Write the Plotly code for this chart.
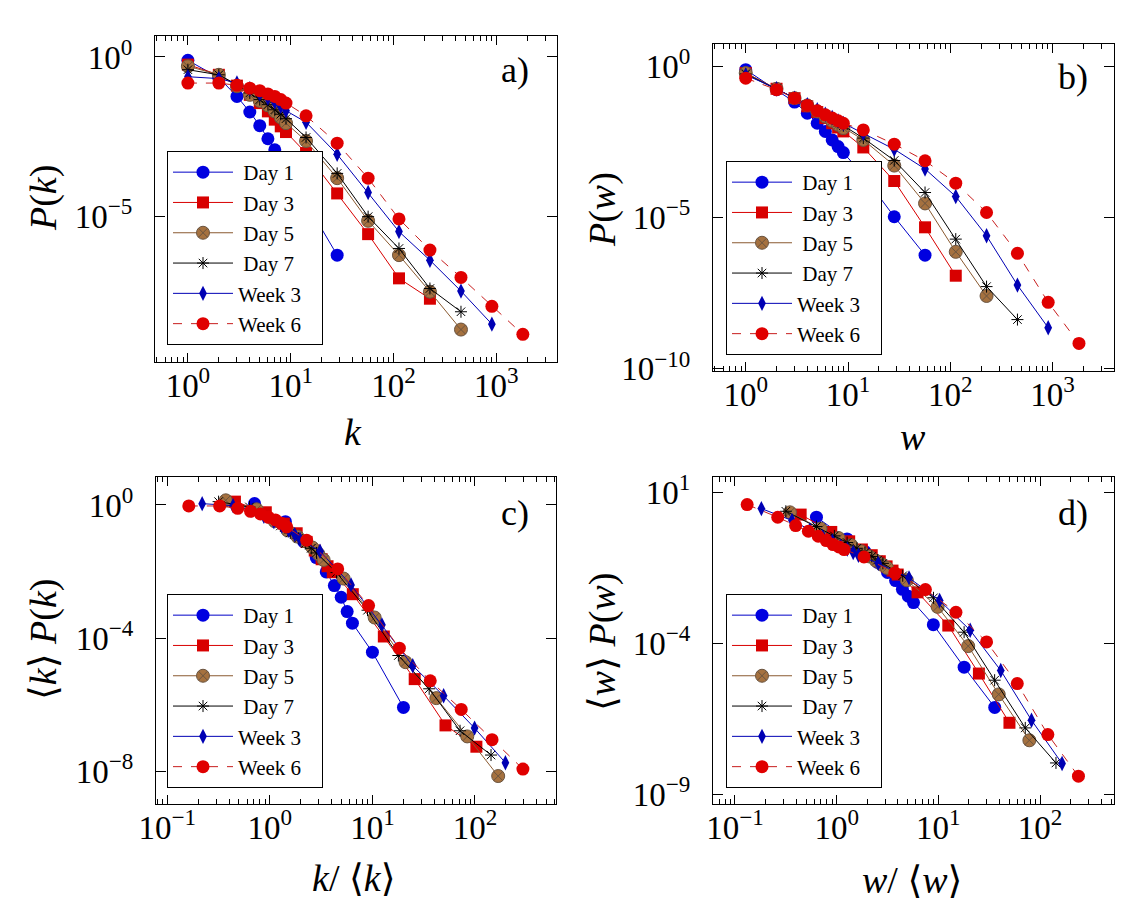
import plotly.graph_objects as go

# ---------------- data ----------------
series_names = ["Day 1", "Day 3", "Day 5", "Day 7", "Week 3", "Week 6"]
bins = [1, 2, 3, 4, 5, 6, 7, 8, 9, 14.1, 28.3, 56.6, 113, 226, 453, 905, 1810]

# panel a: log10 P(k)
log10_pk_day1 = [-0.105, -0.65, -1.24, -1.73, -2.16, -2.57, -2.92, -3.35, -3.70, -4.57, -6.23]
log10_pk_day3 = [-0.24, -0.56, -0.90, -1.19, -1.45, -1.71, -1.97, -2.18, -2.36, -3.02, -4.29, -5.57, -6.96, -7.60]
log10_pk_day5 = [-0.29, -0.56, -0.92, -1.19, -1.38, -1.52, -1.71, -1.90, -2.08, -2.64, -3.81, -5.15, -6.23, -7.38, -8.57]
log10_pk_day7 = [-0.40, -0.56, -0.87, -1.13, -1.34, -1.50, -1.66, -1.80, -1.94, -2.53, -3.66, -5.02, -6.02, -7.28, -8.01]
log10_pk_week3 = [-0.62, -0.68, -0.82, -1.00, -1.16, -1.29, -1.42, -1.55, -1.69, -2.05, -3.06, -4.26, -5.49, -6.39, -7.36, -8.40]
log10_pk_week6 = [-0.82, -0.82, -0.89, -0.98, -1.06, -1.16, -1.24, -1.34, -1.45, -1.85, -2.71, -3.81, -5.09, -6.07, -6.93, -7.84, -8.72]

# panel b: log10 P(w)
log10_pw_day1 = [-0.11, -0.77, -1.18, -1.55, -1.88, -2.15, -2.43, -2.65, -2.85, -3.60, -4.97, -6.24]
log10_pw_day3 = [-0.22, -0.74, -1.05, -1.32, -1.51, -1.71, -1.88, -2.02, -2.15, -2.68, -3.79, -5.32, -6.92]
log10_pw_day5 = [-0.22, -0.74, -1.05, -1.29, -1.49, -1.66, -1.80, -1.93, -2.04, -2.43, -3.28, -4.53, -6.13, -7.59]
log10_pw_day7 = [-0.25, -0.74, -1.05, -1.27, -1.46, -1.60, -1.73, -1.85, -1.96, -2.37, -3.11, -4.17, -5.71, -7.28, -8.37]
log10_pw_week3 = [-0.28, -0.74, -1.05, -1.27, -1.43, -1.58, -1.69, -1.80, -1.89, -2.21, -2.74, -3.39, -4.30, -5.60, -7.23, -8.64]
log10_pw_week6 = [-0.39, -0.77, -1.05, -1.29, -1.47, -1.60, -1.71, -1.80, -1.88, -2.10, -2.57, -3.12, -3.86, -4.83, -6.18, -7.80, -9.16]

# mean degree / mean weight of each snapshot (panels c, d)
mean_k = [1.41, 2.19, 2.69, 3.16, 4.57, 6.17]
mean_w = [1.58, 2.26, 2.88, 3.16, 5.50, 7.59]

# panel d: log10 <w>P(w)
log10_wpw_day1 = [0.17, -0.55, -0.97, -1.33, -1.66, -1.93, -2.22, -2.45, -2.66, -3.39, -4.80, -6.13]
log10_wpw_day3 = [0.255, -0.32, -0.63, -0.90, -1.09, -1.29, -1.46, -1.60, -1.73, -2.32, -3.42, -5.01, -6.64]
log10_wpw_day5 = [0.33, -0.21, -0.52, -0.76, -0.96, -1.13, -1.27, -1.40, -1.51, -1.92, -2.80, -4.10, -5.70, -7.22]
log10_wpw_day7 = [0.365, -0.14, -0.45, -0.67, -0.86, -1.00, -1.13, -1.25, -1.36, -1.77, -2.50, -3.64, -5.23, -6.81, -7.97]
log10_wpw_week3 = [0.454, 0.06, -0.25, -0.47, -0.63, -0.78, -0.89, -1.00, -1.09, -1.36, -1.84, -2.59, -3.575, -4.91, -6.555, -7.99]
log10_wpw_week6 = [0.586, 0.167, -0.109, -0.297, -0.462, -0.606, -0.738, -0.816, -0.904, -1.147, -1.676, -2.228, -2.979, -3.961, -5.341, -7.03, -8.41]

pk_all = [log10_pk_day1, log10_pk_day3, log10_pk_day5, log10_pk_day7, log10_pk_week3, log10_pk_week6]
pw_all = [log10_pw_day1, log10_pw_day3, log10_pw_day5, log10_pw_day7, log10_pw_week3, log10_pw_week6]
wpw_all = [log10_wpw_day1, log10_wpw_day3, log10_wpw_day5, log10_wpw_day7, log10_wpw_week3, log10_wpw_week6]

# ---------------- styles ----------------
FONT = "Liberation Serif, DejaVu Serif, serif"
W, H = 1130, 911
NB = "\u00a0"
styles = [
    dict(marker=dict(symbol="circle", size=13, color="#0000e0"), line=dict(color="#0000c8", width=1)),
    dict(marker=dict(symbol="square", size=12, color="#d80000"), line=dict(color="#d80000", width=1)),
    dict(marker=dict(symbol="circle-x", size=13, color="#a5713f", line=dict(color="#6a5440", width=1)),
         line=dict(color="#8a5a30", width=1)),
    dict(marker=dict(symbol="asterisk-open", size=10, color="black", line=dict(color="black", width=1)),
         line=dict(color="black", width=1)),
    dict(marker=dict(symbol="diamond-tall", size=11, color="#0000b4"), line=dict(color="#0000b4", width=1)),
    dict(marker=dict(symbol="circle", size=13, color="#e00000"), line=dict(color="#c81e1e", width=1, dash="dash")),
]


def legend_label(name):
    # pad so the legend box is as wide as in the reference and text looks centred
    lead = NB if name.startswith("Day") else ""
    return lead + name + NB * 3


fig = go.Figure()

for i, name in enumerate(series_names):
    st = styles[i]
    label = legend_label(name)
    # a
    xs = bins[:len(pk_all[i])]
    fig.add_trace(go.Scatter(x=xs, y=[10 ** v for v in pk_all[i]], name=label, mode="lines+markers",
                             xaxis="x", yaxis="y", legend="legend", **st))
    # b
    xs = bins[:len(pw_all[i])]
    fig.add_trace(go.Scatter(x=xs, y=[10 ** v for v in pw_all[i]], name=label, mode="lines+markers",
                             xaxis="x2", yaxis="y2", legend="legend2", **st))
    # c : k/<k>, <k>P(k)
    xs = [b / mean_k[i] for b in bins[:len(pk_all[i])]]
    ys = [mean_k[i] * 10 ** v for v in pk_all[i]]
    fig.add_trace(go.Scatter(x=xs, y=ys, name=label, mode="lines+markers",
                             xaxis="x3", yaxis="y3", legend="legend3", **st))
    # d : w/<w>, <w>P(w)
    xs = [b / mean_w[i] for b in bins[:len(wpw_all[i])]]
    fig.add_trace(go.Scatter(x=xs, y=[10 ** v for v in wpw_all[i]], name=label, mode="lines+markers",
                             xaxis="x4", yaxis="y4", legend="legend4", **st))


def px_dom(a, b, total):
    return [a / total, b / total]


def ydom(top, bottom):
    return [1 - bottom / H, 1 - top / H]


def sup_label(e):
    s = str(e).replace("-", "\u2212")
    return "10<sup>%s</sup>" % s


def minor_vals(lo, hi):
    vals = []
    for e in range(lo, hi + 1):
        for m in range(2, 10):
            vals.append(m * 10 ** e)
    return vals


TICKSIZE = 33


def xaxis(dom, rng, majors, anchor):
    return dict(type="log", domain=dom, range=rng, anchor=anchor, automargin=False,
                showline=True, linecolor="black", linewidth=1, mirror="allticks",
                ticks="inside", ticklen=9, tickwidth=1, tickcolor="black",
                tickmode="array", tickvals=[10 ** e for e in majors], ticktext=[sup_label(e) for e in majors],
                tickfont=dict(family=FONT, size=TICKSIZE, color="black"),
                minor=dict(ticks="inside", ticklen=5, tickcolor="black", tickwidth=1,
                           tickmode="array", tickvals=minor_vals(majors[0] - 1, majors[-1] + 1)),
                showgrid=False, zeroline=False, ticklabelstandoff=-6)


def yaxis(dom, rng, majors, anchor):
    return dict(type="log", domain=dom, range=rng, anchor=anchor, automargin=False,
                showline=True, linecolor="black", linewidth=1, mirror="allticks",
                ticks="inside", ticklen=10, tickwidth=1, tickcolor="black",
                tickmode="array", tickvals=[10 ** e for e in majors], ticktext=[sup_label(e) for e in majors],
                tickfont=dict(family=FONT, size=TICKSIZE, color="black"),
                showgrid=False, zeroline=False, ticklabelstandoff=15)


leg_common = dict(xanchor="left", yanchor="top", bgcolor="white", bordercolor="black", borderwidth=1,
                  font=dict(family=FONT, size=21, color="black"), itemwidth=60, tracegroupgap=0)

fig.update_layout(
    template="none",
    width=W, height=H, margin=dict(l=0, r=0, t=0, b=0, autoexpand=False),
    paper_bgcolor="white", plot_bgcolor="white",
    xaxis=xaxis(px_dom(155, 557, W), [-0.32, 3.59], [0, 1, 2, 3], "y"),
    yaxis=yaxis(ydom(36, 362), [-9.59, 0.66], [0, -5], "x"),
    xaxis2=xaxis(px_dom(713, 1114, W), [-0.32, 3.60], [0, 1, 2, 3], "y2"),
    yaxis2=yaxis(ydom(44, 371), [-10.07, 0.74], [0, -5, -10], "x2"),
    xaxis3=xaxis(px_dom(156, 556, W), [-1.11, 2.79], [-1, 0, 1, 2], "y3"),
    yaxis3=yaxis(ydom(477, 804), [-8.98, 0.84], [0, -4, -8], "x3"),
    xaxis4=xaxis(px_dom(713, 1114, W), [-1.216, 2.727], [-1, 0, 1, 2], "y4"),
    yaxis4=yaxis(ydom(477, 804), [-9.33, 1.5], [1, -4, -9], "x4"),
    legend=dict(x=167 / W, y=1 - 151 / H, **leg_common),
    legend2=dict(x=726 / W, y=1 - 161 / H, **leg_common),
    legend3=dict(x=167 / W, y=1 - 594 / H, **leg_common),
    legend4=dict(x=726 / W, y=1 - 594 / H, **leg_common),
)

ann = []


def add_text(text, x, y, size=38, angle=0):
    ann.append(dict(text=text, x=x / W, y=1 - y / H, xref="paper", yref="paper", showarrow=False,
                    xanchor="center", yanchor="middle", textangle=angle,
                    font=dict(family=FONT, size=size, color="black")))


add_text("a)", 515, 70, 36)
add_text("b)", 1073, 77, 36)
add_text("c)", 515, 513, 36)
add_text("d)", 1073, 513, 36)
add_text("<i>P</i>(<i>k</i>)", 43, 198, 38, -90)
add_text("<i>P</i>(<i>w</i>)", 602, 210, 38, -90)
add_text("\u27e8<i>k</i>\u27e9 <i>P</i>(<i>k</i>)", 43, 640, 38, -90)
add_text("\u27e8<i>w</i>\u27e9 <i>P</i>(<i>w</i>)", 602, 642, 38, -90)
add_text("<i>k</i>", 353, 432, 38)
add_text("<i>w</i>", 913, 437, 38)
add_text("<i>k</i>/ \u27e8<i>k</i>\u27e9", 353, 878, 38)
add_text("<i>w</i>/ \u27e8<i>w</i>\u27e9", 912, 880, 38)
fig.update_layout(annotations=ann)

fig.write_html("out.html", config={"displayModeBar": False},
               post_script="document.body.style.margin='0px';")
